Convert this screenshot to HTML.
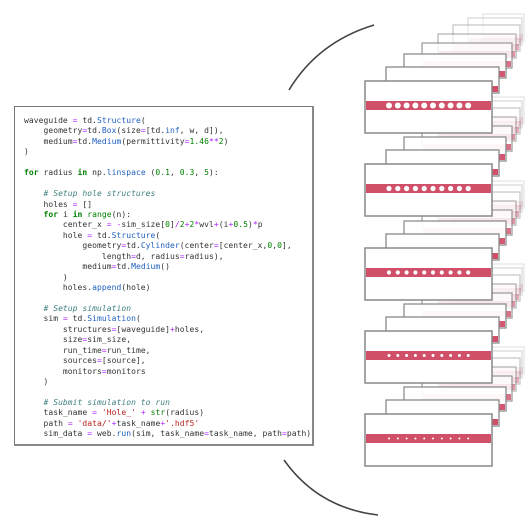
<!DOCTYPE html>
<html><head><meta charset="utf-8"><style>
html,body{margin:0;padding:0;background:#fff;width:532px;height:524px;overflow:hidden;position:relative}
#code{position:absolute;left:14px;top:106px;width:300px;height:340px;box-sizing:border-box;border:1.5px solid #777;border-right:2px solid #888;border-bottom:2px solid #888;background:#fff}
pre{margin:0;position:absolute;left:9px;top:9px;font-family:"DejaVu Sans Mono","Liberation Mono",monospace;font-size:8px;line-height:10.43px;color:#333;letter-spacing:0.05px}
.k{color:#008000;font-weight:bold}.o{color:#aa22ff}.f{color:#2060c0}.n{color:#008000}.c{color:#408080;font-style:italic}.s{color:#ba2121}.b{color:#008000}
svg{position:absolute;left:0;top:0}
</style></head><body>
<svg id="sv" width="532" height="524" viewBox="0 0 532 524">
<path d="M289 90 Q318 42 374 25" stroke="#444" stroke-width="1.6" fill="none"/>
<path d="M284 460 Q318 508 378 515" stroke="#444" stroke-width="1.6" fill="none"/>
<g id="cards"></g>
</svg>
<div id="code"><pre>waveguide <span class="o">=</span> td.<span class="f">Structure</span>(
    geometry<span class="o">=</span>td.<span class="f">Box</span>(size<span class="o">=</span>[td.<span class="f">inf</span>, w, d]),
    medium<span class="o">=</span>td.<span class="f">Medium</span>(permittivity<span class="o">=</span><span class="n">1.46</span><span class="o">**</span><span class="n">2</span>)
)

<span class="k">for</span> radius <span class="k">in</span> np.<span class="f">linspace</span> (<span class="n">0.1</span>, <span class="n">0.3</span>, <span class="n">5</span>):

    <span class="c"># Setup hole structures</span>
    holes <span class="o">=</span> []
    <span class="k">for</span> i <span class="k">in</span> <span class="b">range</span>(n):
        center_x <span class="o">=</span> <span class="o">-</span>sim_size[<span class="n">0</span>]<span class="o">/</span><span class="n">2</span><span class="o">+</span><span class="n">2</span><span class="o">*</span>wvl<span class="o">+</span>(i<span class="o">+</span><span class="n">0.5</span>)<span class="o">*</span>p
        hole <span class="o">=</span> td.<span class="f">Structure</span>(
            geometry<span class="o">=</span>td.<span class="f">Cylinder</span>(center<span class="o">=</span>[center_x,<span class="n">0</span>,<span class="n">0</span>],
                length<span class="o">=</span>d, radius<span class="o">=</span>radius),
            medium<span class="o">=</span>td.<span class="f">Medium</span>()
        )
        holes.<span class="f">append</span>(hole)

    <span class="c"># Setup simulation</span>
    sim <span class="o">=</span> td.<span class="f">Simulation</span>(
        structures<span class="o">=</span>[waveguide]<span class="o">+</span>holes,
        size<span class="o">=</span>sim_size,
        run_time<span class="o">=</span>run_time,
        sources<span class="o">=</span>[source],
        monitors<span class="o">=</span>monitors
    )

    <span class="c"># Submit simulation to run</span>
    task_name <span class="o">=</span> <span class="s">'Hole_'</span> <span class="o">+</span> <span class="b">str</span>(radius)
    path <span class="o">=</span> <span class="s">'data/'</span><span class="o">+</span>task_name<span class="o">+</span><span class="s">'.hdf5'</span>
    sim_data <span class="o">=</span> web.<span class="f">run</span>(sim, task_name<span class="o">=</span>task_name, path<span class="o">=</span>path)</pre></div>
<script>
var g=document.getElementById('cards'),h='';
var tops=[81,164,248,331,414],rad=[3,2.6,2.1,1.5,1.0];
var L=[386,404,422,438,453,468,483],T=[-14,-27,-38,-47,-56,-63,-67],R=[499,506,512,516,520,522,524],B=[-40,-55,-65,-75,-82,-88,-92],op=[1,0.95,0.8,0.6,0.45,0.3,0.2];
for(var s=4;s>=0;s--){var t=tops[s];
 for(var k=6;k>=0;k--){var y0=t+T[k],y1=t+52+B[k],hh=y1-y0;
  h+='<g opacity="'+op[k]+'"><rect x="'+L[k]+'" y="'+y0+'" width="'+(R[k]-L[k])+'" height="'+hh+'" fill="#fff" stroke="#888" stroke-width="1.3"/>';
  h+='<rect x="'+(L[k]+1)+'" y="'+(y1-7)+'" width="'+(R[k]-L[k]-2)+'" height="6" fill="#d0506a"/></g>';}
 h+='<rect x="365" y="'+t+'" width="127" height="52" fill="#fff" stroke="#888" stroke-width="1.5"/>';
 h+='<rect x="366" y="'+(t+20)+'" width="125" height="9" fill="#d0506a"/>';
 for(var d=0;d<10;d++)h+='<circle cx="'+(389+d*8.8)+'" cy="'+(t+24.5)+'" r="'+rad[s]+'" fill="#fff"/>';
}
g.innerHTML=h;
</script>
</body></html>
